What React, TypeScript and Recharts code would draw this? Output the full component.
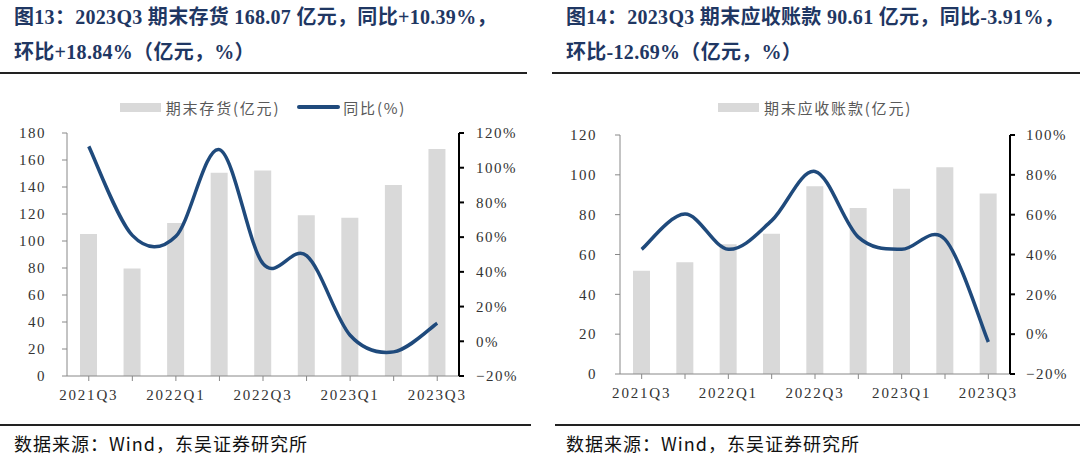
import React from 'react'
import { ComposedChart, Bar, Line, XAxis, YAxis, Legend } from 'recharts'

const quarters = ['2021Q3', '2021Q4', '2022Q1', '2022Q2', '2022Q3', '2022Q4', '2023Q1', '2023Q2', '2023Q3']

// 期末存货 (亿元) and 同比 (%)
const inventory = [105.2, 79.7, 113.3, 150.6, 152.3, 119.0, 117.3, 141.4, 168.07]
const inventoryYoy = [112.3, 61, 60.5, 110.4, 44.7, 49.3, 3.5, -6.1, 10.39]

// 期末应收账款 (亿元) and 同比 (%)
const receivables = [51.9, 56.1, 65.2, 70.4, 94.3, 83.4, 93.0, 103.8, 90.61]
const receivablesYoy = [42.6, 60.3, 42.6, 57.0, 81.7, 48.7, 42.6, 47.6, -3.91]

const inventoryTicks = [0, 20, 40, 60, 80, 100, 120, 140, 160, 180]
const inventoryPctTicks = [-20, 0, 20, 40, 60, 80, 100, 120]
const receivableTicks = [0, 20, 40, 60, 80, 100, 120]
const receivablePctTicks = [-20, 0, 20, 40, 60, 80, 100]

const BAR_COLOR = '#D9D9D9'
const LINE_COLOR = '#1F4A7C'
const TITLE_COLOR = '#1F3763'
const SERIF = "'Liberation Serif', 'Times New Roman', 'Noto Sans CJK SC', serif"
const CJK = "'Noto Sans CJK SC', 'Liberation Serif', sans-serif"

// Excel-like smoothed line (Catmull-Rom through every point)
const smoothCurve: any = (context: any) => {
  let pts: number[][] = []
  return {
    areaStart() {},
    areaEnd() {},
    lineStart() {
      pts = []
    },
    point(x: number, y: number) {
      pts.push([+x, +y])
    },
    lineEnd() {
      const n = pts.length
      if (!n) return
      context.moveTo(pts[0][0], pts[0][1])
      for (let i = 0; i < n - 1; i++) {
        const p0 = pts[Math.max(0, i - 1)]
        const p1 = pts[i]
        const p2 = pts[i + 1]
        const p3 = pts[Math.min(n - 1, i + 2)]
        context.bezierCurveTo(
          p1[0] + (p2[0] - p0[0]) / 6,
          p1[1] + (p2[1] - p0[1]) / 6,
          p2[0] - (p3[0] - p1[0]) / 6,
          p2[1] - (p3[1] - p1[1]) / 6,
          p2[0],
          p2[1]
        )
      }
    },
  }
}

const tickStyle = { fill: '#333', fontSize: 15, fontFamily: SERIF, letterSpacing: 1.5 }

const XTick = ({ x, y, payload, index }: any) => {
  if (index % 2 !== 0) return <g />
  return (
    <text x={x} y={y} dy="0.71em" textAnchor="middle" fill="#333" fontSize={15} fontFamily={SERIF} letterSpacing={1.8}>
      {payload.value}
    </text>
  )
}

const pct = (v: number) => (v < 0 ? `−${Math.abs(v)}%` : `${v}%`)

const LegendContent = ({ items }: { items: { label: string; kind: 'bar' | 'line' }[] }) => (
  <div style={{ display: 'flex', justifyContent: 'center', alignItems: 'center', height: 20 }}>
    {items.map((it, i) => (
      <div key={i} style={{ display: 'flex', alignItems: 'center', marginLeft: i ? 17 : 0 }}>
        {it.kind === 'bar' ? (
          <div style={{ width: 41, height: 9, background: BAR_COLOR, marginRight: 5 }} />
        ) : (
          <div style={{ width: 43, height: 3.5, background: LINE_COLOR, borderRadius: 2, marginRight: 3 }} />
        )}
        <span style={{ fontFamily: CJK, fontSize: 15, color: '#595959', letterSpacing: 1.8 }}>{it.label}</span>
      </div>
    ))}
  </div>
)

const Title = ({ left, lines }: { left: number; lines: string[] }) => (
  <>
    {lines.map((t, i) => (
      <div
        key={i}
        style={{
          position: 'absolute',
          left,
          top: 5 + i * 35,
          fontFamily: SERIF,
          fontWeight: 'bold',
          fontSize: 20,
          letterSpacing: 0.3,
          lineHeight: '24px',
          color: TITLE_COLOR,
          whiteSpace: 'nowrap',
        }}
      >
        {t}
      </div>
    ))}
  </>
)

const Rule = ({ left, width, top }: { left: number; width: number; top: number }) => (
  <div style={{ position: 'absolute', left, width, top, height: 2, background: '#222' }} />
)

const Source = ({ left }: { left: number }) => (
  <div
    style={{
      position: 'absolute',
      left,
      top: 432,
      fontFamily: CJK,
      fontSize: 18,
      letterSpacing: 1,
      lineHeight: '22px',
      color: '#111',
      whiteSpace: 'nowrap',
    }}
  >
    数据来源：Wind，东吴证券研究所
  </div>
)

export default function App() {
  const inventoryData = quarters.map((q, i) => ({ quarter: q, value: inventory[i], yoy: inventoryYoy[i] }))
  const receivableData = quarters.map((q, i) => ({ quarter: q, value: receivables[i], yoy: receivablesYoy[i] }))

  return (
    <div style={{ position: 'absolute', left: 0, top: 0, width: 1080, height: 459, background: '#fff', overflow: 'hidden' }}>
      <Title left={14} lines={['图13：2023Q3 期末存货 168.07 亿元，同比+10.39%，', '环比+18.84%（亿元，%）']} />
      <Title left={566} lines={['图14：2023Q3 期末应收账款 90.61 亿元，同比-3.91%，', '环比-12.69%（亿元，%）']} />
      <Rule left={0} width={527} top={72} />
      <Rule left={552} width={528} top={72} />

      <div style={{ position: 'absolute', left: 0, top: 0 }}>
        <ComposedChart width={540} height={459} data={inventoryData} margin={{ top: 113, right: 21, bottom: 53, left: 17 }}>
          <Legend
            verticalAlign="top"
            wrapperStyle={{ top: 97, left: 67, width: 392 }}
            content={() => (
              <LegendContent
                items={[
                  { label: '期末存货(亿元)', kind: 'bar' },
                  { label: '同比(%)', kind: 'line' },
                ]}
              />
            )}
          />
          <XAxis
            dataKey="quarter"
            interval={0}
            height={30}
            tickSize={5}
            tickMargin={8}
            tick={<XTick />}
            axisLine={{ stroke: '#888' }}
            tickLine={{ stroke: '#888' }}
          />
          <YAxis
            yAxisId="left"
            width={50}
            domain={[0, 180]}
            ticks={inventoryTicks}
            tickSize={5}
            tickMargin={16}
            tick={tickStyle}
            axisLine={{ stroke: '#888' }}
            tickLine={{ stroke: '#888' }}
          />
          <YAxis
            yAxisId="right"
            orientation="right"
            width={60}
            domain={[-20, 120]}
            ticks={inventoryPctTicks}
            tickFormatter={pct}
            tickSize={5}
            tickMargin={12}
            tick={tickStyle}
            axisLine={{ stroke: '#000', strokeWidth: 2 }}
            tickLine={{ stroke: '#000', strokeWidth: 2 }}
          />
          <Bar yAxisId="left" dataKey="value" name="期末存货(亿元)" fill={BAR_COLOR} barSize={17} isAnimationActive={false} />
          <Line
            yAxisId="right"
            dataKey="yoy"
            name="同比(%)"
            type={smoothCurve}
            stroke={LINE_COLOR}
            strokeWidth={3.5}
            dot={false}
            activeDot={false}
            isAnimationActive={false}
          />
        </ComposedChart>
      </div>

      <div style={{ position: 'absolute', left: 540, top: 0 }}>
        <ComposedChart width={540} height={459} data={receivableData} margin={{ top: 115, right: 10, bottom: 55, left: 30 }}>
          <Legend
            verticalAlign="top"
            wrapperStyle={{ top: 97, left: 80, width: 390 }}
            content={() => <LegendContent items={[{ label: '期末应收账款(亿元)', kind: 'bar' }]} />}
          />
          <XAxis
            dataKey="quarter"
            interval={0}
            height={30}
            tickSize={5}
            tickMargin={8}
            tick={<XTick />}
            axisLine={{ stroke: '#888' }}
            tickLine={{ stroke: '#888' }}
          />
          <YAxis
            yAxisId="left"
            width={50}
            domain={[0, 120]}
            ticks={receivableTicks}
            tickSize={5}
            tickMargin={18}
            tick={tickStyle}
            axisLine={{ stroke: '#888' }}
            tickLine={{ stroke: '#888' }}
          />
          <YAxis
            yAxisId="right"
            orientation="right"
            width={60}
            domain={[-20, 100]}
            ticks={receivablePctTicks}
            tickFormatter={pct}
            tickSize={5}
            tickMargin={11}
            tick={tickStyle}
            axisLine={{ stroke: '#000', strokeWidth: 2 }}
            tickLine={{ stroke: '#000', strokeWidth: 2 }}
          />
          <Bar yAxisId="left" dataKey="value" name="期末应收账款(亿元)" fill={BAR_COLOR} barSize={17} isAnimationActive={false} />
          <Line
            yAxisId="right"
            dataKey="yoy"
            name="同比(%)"
            type={smoothCurve}
            stroke={LINE_COLOR}
            strokeWidth={3.5}
            dot={false}
            activeDot={false}
            legendType="none"
            isAnimationActive={false}
          />
        </ComposedChart>
      </div>

      <Rule left={0} width={531} top={424} />
      <Rule left={555} width={525} top={424} />
      <Source left={14} />
      <Source left={566} />
    </div>
  )
}
